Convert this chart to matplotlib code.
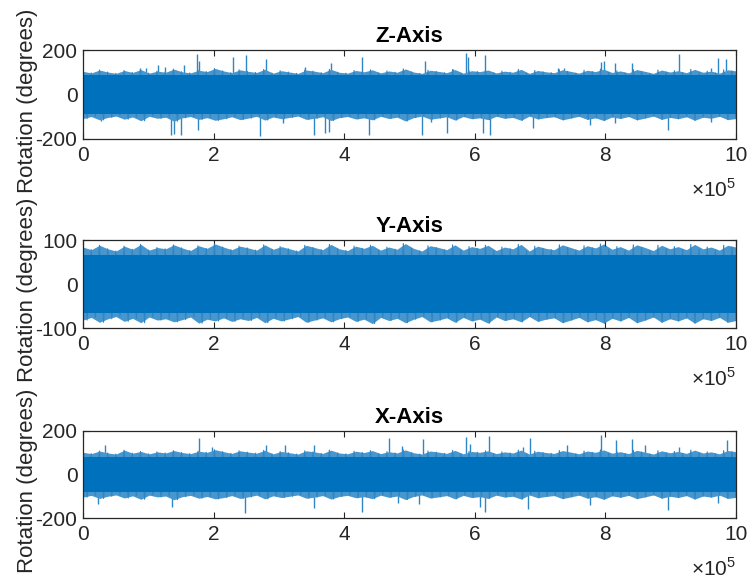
import matplotlib
matplotlib.use("Agg")
import numpy as np
import matplotlib.pyplot as plt

plt.rcParams['font.family'] = ['Liberation Sans', 'DejaVu Sans']
plt.rcParams['mathtext.fontset'] = 'custom'
plt.rcParams['mathtext.rm'] = 'Liberation Sans'

# ---------------- data ----------------
N_SAMPLES = 1_000_000
x_tick_vals = [0, 2, 4, 6, 8, 10]          # in units of 1e5 samples
x_tick_labels = ["0", "2", "4", "6", "8", "10"]
titles = ["Z-Axis", "Y-Axis", "X-Axis"]
ylims = [200, 100, 200]
y_ticks = [[-200, 0, 200], [-100, 0, 100], [-200, 0, 200]]

# dense core of the signal (degrees)
z_core = 86
y_core = 66
x_core = 80

# ragged upper / lower edge of the band
z_hi = [104, 97, 110, 101, 95, 108, 99, 112, 96, 105, 100, 114, 102, 97, 109, 103, 117, 106, 98, 111,
        104, 99, 113, 96, 107, 101, 95, 110, 105, 98, 113, 100, 96, 108, 102, 111, 97, 106, 100, 115,
        101, 95, 109, 104, 98, 112, 96, 107, 103, 110, 97, 105, 100, 113, 95, 108, 102, 98, 111, 104,
        96, 109, 103, 114, 99, 106, 97, 112, 104, 95, 110, 101, 107, 98, 113, 100, 105, 96, 111, 106]
z_lo = [-108, -99, -114, -103, -97, -111, -101, -118, -98, -107, -102, -120, -105, -99, -112, -104, -116, -109, -100, -113,
        -106, -98, -115, -101, -109, -103, -97, -112, -107, -100, -117, -104, -99, -110, -105, -114, -98, -108, -102, -119,
        -104, -97, -111, -106, -100, -115, -99, -109, -105, -113, -98, -107, -103, -116, -97, -110, -104, -100, -114, -106,
        -98, -112, -105, -117, -101, -108, -99, -114, -106, -97, -112, -103, -109, -100, -116, -102, -107, -98, -113, -108]

y_hi = [84, 78, 88, 80, 75, 86, 79, 90, 77, 83, 80, 89, 82, 76, 87, 81, 91, 84, 78, 86,
        82, 77, 89, 79, 85, 80, 75, 88, 83, 78, 90, 80, 76, 86, 81, 88, 77, 84, 79, 92,
        81, 75, 87, 83, 78, 89, 77, 85, 81, 88, 76, 84, 80, 90, 75, 86, 81, 78, 89, 83,
        77, 87, 82, 91, 79, 85, 77, 89, 83, 76, 88, 80, 85, 78, 90, 80, 84, 77, 88, 84]
y_lo = [-82, -76, -87, -79, -74, -85, -78, -88, -75, -82, -79, -86, -81, -75, -89, -80, -84, -77, -85, -79,
        -83, -76, -88, -78, -84, -79, -74, -87, -82, -77, -86, -79, -75, -85, -80, -90, -76, -83, -78, -88,
        -80, -74, -86, -82, -77, -87, -76, -84, -80, -89, -75, -83, -79, -86, -74, -85, -80, -77, -88, -82,
        -76, -86, -81, -89, -78, -84, -76, -88, -82, -75, -87, -79, -84, -77, -89, -79, -83, -76, -87, -83]

x_hi = [102, 96, 108, 99, 94, 112, 98, 106, 95, 104, 99, 110, 101, 96, 107, 102, 114, 105, 97, 109,
        103, 98, 111, 95, 106, 100, 94, 109, 104, 97, 112, 99, 95, 107, 101, 110, 96, 105, 99, 113,
        100, 94, 108, 103, 97, 111, 95, 106, 102, 109, 96, 104, 99, 112, 94, 107, 101, 97, 110, 103,
        95, 108, 102, 113, 98, 105, 96, 111, 103, 94, 109, 100, 106, 97, 112, 99, 104, 95, 110, 105]
x_lo = [-104, -96, -110, -100, -94, -108, -98, -114, -95, -103, -99, -116, -102, -96, -109, -101, -112, -106, -97, -110,
        -103, -95, -112, -98, -106, -100, -94, -109, -104, -97, -113, -101, -96, -107, -102, -111, -95, -105, -99, -115,
        -101, -94, -108, -103, -97, -112, -96, -106, -102, -110, -95, -104, -100, -113, -94, -107, -101, -97, -111, -103,
        -95, -109, -102, -114, -98, -105, -96, -111, -103, -94, -109, -100, -106, -97, -113, -99, -104, -95, -110, -105]

# isolated spikes: position (x 1e5 samples) and peak value (degrees)
z_spike_up_x = [0.87, 0.97, 1.15, 1.25, 1.54, 1.74, 1.77, 2.29, 2.50, 2.80, 3.40, 3.80, 4.28,
                5.23, 5.67, 5.87, 5.90, 6.16, 7.27, 7.37, 7.94, 7.98, 8.15, 8.40, 9.12, 9.62, 9.73, 9.84]
z_spike_up_y = [117, 117, 132, 125, 132, 182, 150, 167, 178, 158, 125, 143, 167,
                152, 113, 185, 170, 178, 118, 118, 148, 152, 140, 140, 182, 118, 163, 158]
z_spike_dn_x = [0.27, 1.34, 1.39, 1.50, 1.76, 2.71, 3.07, 3.54, 3.71, 3.76, 4.38,
                5.19, 5.33, 5.57, 6.12, 6.24, 6.89, 7.76, 8.15, 8.96, 9.62]
z_spike_dn_y = [-120, -182, -177, -182, -160, -186, -130, -182, -171, -167, -182,
                -182, -125, -171, -171, -182, -150, -135, -130, -160, -125]

y_spike_up_x = []
y_spike_up_y = []
y_spike_dn_x = []
y_spike_dn_y = []

x_spike_up_x = [0.34, 1.77, 1.97, 2.81, 3.09, 3.53, 4.68, 4.88,
                5.20, 5.87, 5.93, 6.22, 6.74, 6.85, 7.41, 7.93, 8.16, 8.40, 8.61, 9.12, 9.86]
x_spike_up_y = [134, 168, 126, 137, 134, 134, 169, 132,
                165, 172, 140, 177, 126, 168, 134, 180, 157, 161, 134, 126, 157]
x_spike_dn_x = [0.23, 1.36, 2.48, 3.53, 4.28, 4.83, 5.14, 6.08, 6.16, 6.82, 7.76, 8.96, 9.73]
x_spike_dn_y = [-134, -149, -175, -154, -172, -129, -134, -149, -172, -160, -142, -165, -129]

# ---------------- styling ----------------
LINE = "#0072BD"
FRINGE = "#4896CE"
SPIKE = "#2F86C6"
AX_C = "#262626"
TICK_FS = 15
LABEL_FS = 16
TITLE_FS = 16

fig = plt.figure(figsize=(7.48, 5.84), dpi=100)
W, H = 748, 584
boxes = [(83, 50, 736, 139), (83, 240, 736, 328), (83, 431, 736, 518)]

panels = [
    (z_core, z_hi, z_lo, z_spike_up_x, z_spike_up_y, z_spike_dn_x, z_spike_dn_y),
    (y_core, y_hi, y_lo, y_spike_up_x, y_spike_up_y, y_spike_dn_x, y_spike_dn_y),
    (x_core, x_hi, x_lo, x_spike_up_x, x_spike_up_y, x_spike_dn_x, x_spike_dn_y),
]

for i, (core, hi, lo, sux, suy, sdx, sdy) in enumerate(panels):
    l, t, r, b = boxes[i]
    ax = fig.add_axes([l / W, (H - b) / H, (r - l) / W, (b - t) / H])

    # isolated spikes (under the band)
    if sux:
        ax.vlines(np.array(sux) * 1e5, 0, suy, color=SPIKE, lw=1.0, zorder=1)
    if sdx:
        ax.vlines(np.array(sdx) * 1e5, sdy, 0, color=SPIKE, lw=1.0, zorder=1)
    # ragged envelope (lighter, like the anti-aliased fringe)
    xe = np.linspace(0, N_SAMPLES, len(hi))
    ax.fill_between(xe, lo, hi, color=FRINGE, lw=0, zorder=1.5)
    # zig-zag through the envelope extremes
    xs = np.linspace(0, N_SAMPLES, 2 * len(hi))
    ys = np.ravel(np.column_stack([hi, lo]))
    ax.plot(xs, ys, color=SPIKE, lw=0.8, zorder=2)
    # solid core
    ax.fill_between([0, N_SAMPLES], [-core, -core], [core, core], color=LINE, lw=0, zorder=3)

    ax.set_xlim(0, N_SAMPLES)
    ax.set_ylim(-ylims[i], ylims[i])
    ax.set_xticks(np.array(x_tick_vals) * 1e5)
    ax.set_xticklabels(x_tick_labels)
    ax.set_yticks(y_ticks[i])
    ax.set_yticklabels([str(v) for v in y_ticks[i]])

    ax.tick_params(direction="in", length=4, width=0.8, colors=AX_C,
                   labelsize=TICK_FS, top=True, right=True)
    ax.tick_params(axis="x", pad=5)
    ax.tick_params(axis="y", pad=4)
    for s in ax.spines.values():
        s.set_color(AX_C)
        s.set_linewidth(0.9)
        s.set_zorder(5)

    ax.set_title(titles[i], fontsize=TITLE_FS, fontweight="bold", color="black", pad=6)
    ax.set_ylabel("Rotation (degrees)", fontsize=LABEL_FS, color=AX_C)
    ax.yaxis.set_label_coords(-0.069, 0.43)

    ax.text(1.0, -62 / (b - t), r"$\times10^{5}$", transform=ax.transAxes,
            ha="right", va="bottom", fontsize=TICK_FS, color=AX_C)

fig.savefig("out.png", dpi=100)
